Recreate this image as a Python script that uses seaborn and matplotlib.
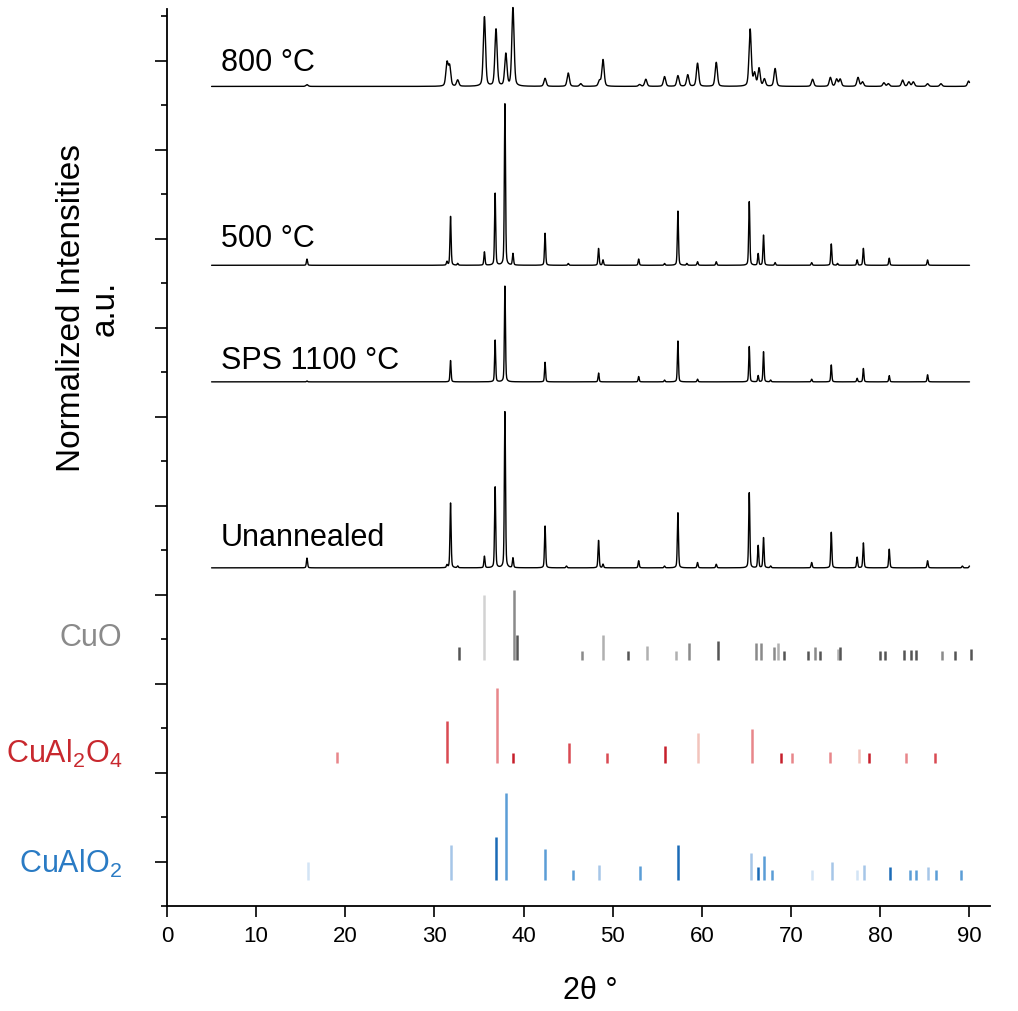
import numpy as np
import pandas as pd
import matplotlib
matplotlib.use("Agg")
import matplotlib.pyplot as plt
import seaborn as sns
from matplotlib.ticker import MultipleLocator

# ---------------- data ----------------
# measured patterns: peak positions (2theta) and normalized heights
t800_pos = [15.7, 31.4, 31.7, 32.6, 35.6, 36.9, 38.0, 38.8, 42.4, 45.0, 46.4, 48.5, 48.9,
            53.0, 53.7, 55.8, 57.3, 58.4, 59.5, 61.6, 65.4, 65.9, 66.4, 67.0, 68.2,
            72.4, 74.4, 75.1, 75.5, 77.5, 78.0, 80.4, 80.9, 82.5, 83.2, 83.7, 85.3, 86.8, 89.9]
t800_h = [0.02, 0.26, 0.22, 0.07, 0.78, 0.64, 0.36, 0.88, 0.09, 0.15, 0.03, 0.06, 0.30,
          0.02, 0.08, 0.11, 0.12, 0.13, 0.26, 0.27, 0.64, 0.14, 0.20, 0.08, 0.20,
          0.08, 0.10, 0.08, 0.08, 0.10, 0.05, 0.04, 0.03, 0.07, 0.05, 0.05, 0.03, 0.03, 0.06]

t500_pos = [15.7, 31.4, 31.8, 32.6, 35.6, 36.8, 37.9, 38.8, 42.4, 45.0, 48.4, 48.9, 52.9,
            55.8, 57.3, 58.3, 59.5, 61.6, 65.3, 66.3, 66.9, 68.2, 72.3, 74.5, 75.2,
            77.4, 78.1, 81.0, 85.3]
t500_h = [0.07, 0.04, 0.55, 0.02, 0.15, 0.81, 1.82, 0.13, 0.36, 0.02, 0.19, 0.06, 0.07,
          0.02, 0.61, 0.02, 0.04, 0.04, 0.72, 0.13, 0.34, 0.03, 0.03, 0.24, 0.02,
          0.06, 0.19, 0.08, 0.06]

sps_pos = [15.7, 31.8, 36.8, 37.9, 42.4, 48.4, 52.9, 55.8, 57.3, 59.5, 65.3, 66.3, 66.9,
           67.7, 72.3, 74.5, 77.4, 78.1, 81.0, 85.3]
sps_h = [0.01, 0.24, 0.47, 1.08, 0.22, 0.10, 0.06, 0.02, 0.46, 0.03, 0.40, 0.07, 0.34,
         0.02, 0.03, 0.19, 0.04, 0.15, 0.07, 0.08]

un_pos = [15.7, 31.4, 31.8, 32.6, 35.6, 36.8, 37.9, 38.8, 42.4, 44.8, 48.4, 48.9, 52.9,
          55.8, 57.3, 59.5, 61.6, 65.3, 66.3, 66.9, 67.7, 72.3, 74.5, 77.4, 78.1,
          81.0, 85.3, 89.2, 90.0]
un_h = [0.11, 0.03, 0.73, 0.02, 0.13, 0.91, 1.76, 0.11, 0.47, 0.02, 0.31, 0.04, 0.08,
        0.02, 0.62, 0.06, 0.04, 0.85, 0.25, 0.34, 0.02, 0.06, 0.40, 0.12, 0.28,
        0.21, 0.08, 0.02, 0.02]

sample_names = ["800 °C", "500 °C", "SPS 1100 °C", "Unannealed"]
sample_offsets = [8.71, 6.70, 5.39, 3.30]

# reference stick patterns: positions, relative heights, shade level (0 light .. 3 dark)
cuo_pos = [32.7, 35.6, 38.9, 39.2, 46.5, 48.9, 51.7, 53.8, 57.1, 58.5, 61.8, 66.1, 66.6,
           68.1, 68.5, 69.2, 71.9, 72.7, 73.2, 75.2, 75.5, 80.0, 80.5, 82.6, 83.4, 84.0,
           86.9, 88.4, 90.2]
cuo_h = [0.15, 0.73, 0.79, 0.29, 0.11, 0.29, 0.10, 0.16, 0.10, 0.19, 0.22, 0.19, 0.19,
         0.15, 0.20, 0.10, 0.10, 0.15, 0.10, 0.13, 0.15, 0.10, 0.10, 0.12, 0.12, 0.12,
         0.10, 0.10, 0.13]
cuo_shade = [3, 0, 2, 3, 2, 1, 3, 1, 1, 2, 3, 2, 2, 2, 1, 3, 3, 2, 3, 1, 3, 3, 3, 3, 3, 3,
             2, 3, 3]

cual2o4_pos = [19.1, 31.4, 37.0, 38.8, 45.1, 49.3, 55.9, 59.5, 65.6, 68.9, 70.1, 74.3,
               77.6, 78.7, 82.9, 86.1]
cual2o4_h = [0.12, 0.47, 0.84, 0.11, 0.22, 0.11, 0.19, 0.33, 0.38, 0.11, 0.11, 0.12,
             0.15, 0.11, 0.11, 0.11]
cual2o4_shade = [1, 2, 1, 3, 2, 2, 3, 0, 1, 3, 1, 1, 0, 3, 1, 2]

cualo2_pos = [15.8, 31.8, 36.9, 38.0, 42.4, 45.5, 48.4, 53.1, 57.3, 65.5, 66.3, 67.0,
              67.8, 72.3, 74.6, 77.4, 78.2, 81.1, 83.3, 84.0, 85.4, 86.2, 89.0]
cualo2_h = [0.21, 0.39, 0.49, 0.98, 0.35, 0.11, 0.17, 0.16, 0.39, 0.30, 0.15, 0.27,
            0.11, 0.12, 0.21, 0.12, 0.17, 0.15, 0.11, 0.11, 0.15, 0.11, 0.11]
cualo2_shade = [0, 1, 3, 2, 2, 2, 1, 2, 3, 1, 3, 2, 2, 0, 1, 0, 1, 3, 2, 2, 1, 2, 2]

ref_offsets = [2.26, 1.11, -0.21]

x_ticks = [0, 10, 20, 30, 40, 50, 60, 70, 80, 90]

# ---------------- styling ----------------
sns.set_theme(style="ticks")
plt.rcParams["font.family"] = ["Liberation Sans", "DejaVu Sans"]
plt.rcParams["mathtext.fontset"] = "custom"
plt.rcParams["mathtext.rm"] = "Liberation Sans"
plt.rcParams["text.color"] = "black"
plt.rcParams["axes.labelcolor"] = "black"
plt.rcParams["xtick.color"] = "black"
plt.rcParams["ytick.color"] = "black"

fig = plt.figure(figsize=(10.18, 10.12), dpi=100)
ax = fig.add_axes([167 / 1018, 1 - 907 / 1012, (990 - 167) / 1018, (907 - 10) / 1012])

grid = np.linspace(5, 90, 6001)


def pattern(pos, h, fwhm, eta=0.35):
    y = np.zeros_like(grid)
    for p, a in zip(pos, h):
        d2 = 4 * (grid - p) ** 2 / fwhm ** 2
        y += a * (eta / (1 + d2) + (1 - eta) * np.exp(-np.log(2) * d2))
    return y


traces = [(t800_pos, t800_h, 0.30), (t500_pos, t500_h, 0.15),
          (sps_pos, sps_h, 0.14), (un_pos, un_h, 0.15)]
for (pos, h, w), off in zip(traces, sample_offsets):
    df = pd.DataFrame({"x": grid, "y": pattern(pos, h, w) + off})
    sns.lineplot(data=df, x="x", y="y", color="black", lw=1.0, ax=ax,
                 estimator=None, sort=False, clip_on=False)

gray_shades = ["#d2d2d2", "#b0b0b0", "#8a8a8a", "#555555"]
red_shades = ["#f2c4bc", "#e8868a", "#d94a52", "#c61f2b"]
blue_shades = ["#d3e4f5", "#a6c6e8", "#5b9dd6", "#1a6bb7"]

refs = [(cuo_pos, cuo_h, cuo_shade, gray_shades),
        (cual2o4_pos, cual2o4_h, cual2o4_shade, red_shades),
        (cualo2_pos, cualo2_h, cualo2_shade, blue_shades)]
for (pos, h, sh, pal), off in zip(refs, ref_offsets):
    ax.vlines(pos, off, off + np.array(h), colors=[pal[s] for s in sh], lw=1.8)

# text labels
for name, ty in zip(sample_names, [8.98, 7.01, 5.64, 3.65]):
    ax.text(6.05, ty, name, fontsize=22, ha="left", va="center", color="black")

ref_labels = ["CuO", r"CuAl$_\mathregular{2}$O$_\mathregular{4}$", r"CuAlO$_\mathregular{2}$"]
ref_colors = ["#8a8a8a", "#c8282e", "#2a7bc4"]
for lab, col, ty in zip(ref_labels, ref_colors, [2.52, 1.22, -0.02]):
    ax.text(-5.0, ty, lab, fontsize=22, ha="right", va="center", color=col, clip_on=False)

ax.set_xlim(0, 92.3)
ax.set_ylim(-0.5, 9.58)
ax.set_xticks(x_ticks)
ax.set_xticklabels([str(v) for v in x_ticks], fontsize=16)
ax.yaxis.set_major_locator(MultipleLocator(1))
ax.yaxis.set_minor_locator(MultipleLocator(0.5))
ax.set_yticklabels([])
ax.tick_params(axis="y", which="major", length=9, width=1.2, direction="out")
ax.tick_params(axis="y", which="minor", length=4.5, width=1.2, direction="out")
ax.tick_params(axis="x", which="major", length=8, width=1.2, direction="out", pad=6)
for s in ["top", "right"]:
    ax.spines[s].set_visible(False)
for s in ["left", "bottom"]:
    ax.spines[s].set_linewidth(1.3)
    ax.spines[s].set_color("black")

ax.set_xlabel("2θ °", fontsize=22)
ax.xaxis.set_label_coords((590 - 167) / 823, -0.077)
ax.xaxis.label.set_va("top")
ax.set_ylabel("")
fig.text(88 / 1018, 1 - 308 / 1012, "Normalized Intensities\na.u.", rotation=90,
         ha="center", va="center", multialignment="center", fontsize=24, linespacing=1.1)

fig.savefig("out.png", dpi=100)
